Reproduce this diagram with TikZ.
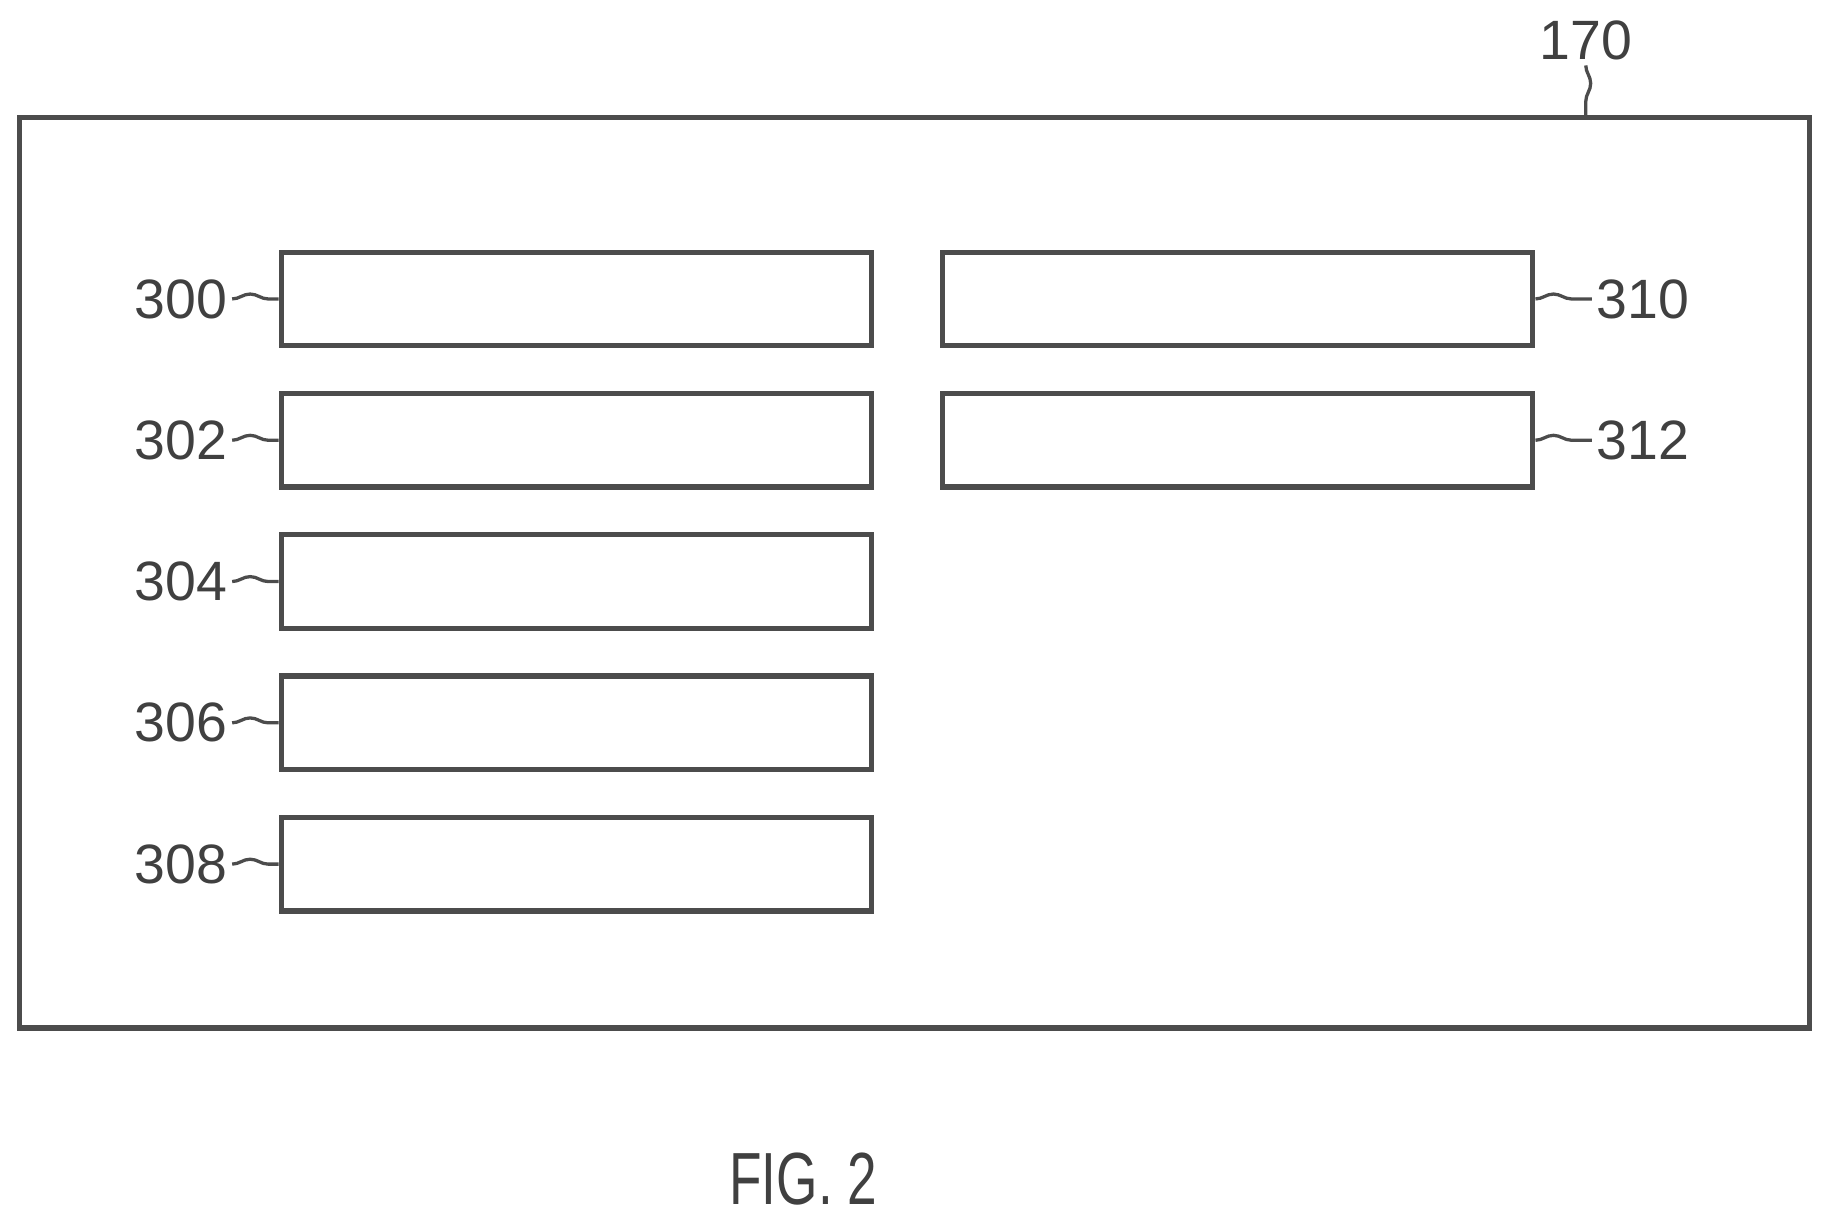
\documentclass[tikz,border=0pt]{standalone}
\usepackage{fontspec}
\setmainfont{Liberation Sans}
\newfontfamily\figfont[FakeStretch=0.72]{Liberation Sans}
\usetikzlibrary{positioning, decorations.pathmorphing}

\begin{document}
\begin{tikzpicture}[x=0.01cm, y=-0.01cm,
  box/.style={draw=black!70, line width=1.3pt, minimum width=5.05cm, minimum height=0.8cm, inner sep=0pt},
  num/.style={font=\fontsize{13.5}{16}\selectfont, text=black!75, inner sep=1pt},
  lead/.style={draw=black!70, line width=0.8pt, decorate, decoration={snake, amplitude=1.2pt, segment length=14pt}}]

\useasboundingbox (0,0) rectangle (1568,1047);

% Gehäuse
\node[draw=black!70, line width=1.3pt, minimum width=15.32cm, minimum height=7.79cm, inner sep=0pt] (unit) at (783,490.5) {};
\node[num] (n170) at (1358,35) {170};
\coordinate (t170) at (1358,101);
\draw[lead] (n170.south) -- (t170);

% linke Spalte
\foreach \i/\lbl in {0/300,1/302,2/304,3/306,4/308} {
  \node[box] (b\lbl) at (493.5,{256+121*\i}) {};
  \node[num] (n\lbl) at (155,{256+121*\i}) {\lbl};
  \draw[lead] (n\lbl.east) -- (b\lbl.west);
}

% rechte Spalte
\foreach \i/\lbl in {0/310,1/312} {
  \node[box] (b\lbl) at (1060,{256+121*\i}) {};
  \node[num] (n\lbl) at (1407,{256+121*\i}) {\lbl};
  \draw[lead] (b\lbl.east) -- (n\lbl.west);
}

% Bildunterschrift
\node[num, font=\figfont\fontsize{18}{22}\selectfont] (fig) at (688,1010) {FIG. 2};

\end{tikzpicture}
\end{document}
